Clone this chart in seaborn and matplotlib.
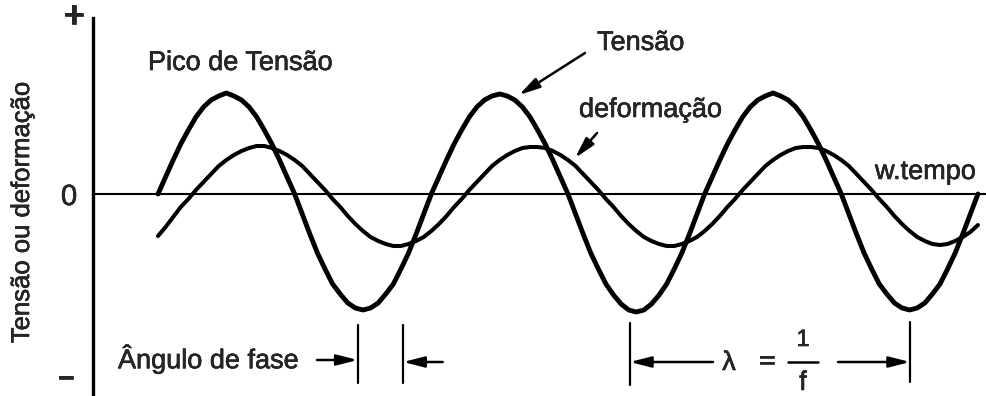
import pandas as pd
import matplotlib.pyplot as plt
import matplotlib.patheffects as pe
import seaborn as sns

# wt in degrees, sampled every 10 degrees over three cycles
omega_t = list(range(0, 1081, 10))

# stress (thick curve); trough a bit deeper than peak
tensao = [0.00, 0.17, 0.34, 0.50, 0.64, 0.77, 0.87, 0.94, 0.98, 1.01, 0.98, 0.94,
          0.87, 0.77, 0.64, 0.50, 0.34, 0.17, 0.00, -0.20, -0.40, -0.59, -0.75, -0.90,
          -1.00, -1.09, -1.14, -1.16, -1.14, -1.09, -1.00, -0.90, -0.75, -0.59, -0.40, -0.20,
          0.00, 0.17, 0.34, 0.50, 0.64, 0.77, 0.87, 0.94, 0.98, 1.00, 0.98, 0.94,
          0.87, 0.77, 0.64, 0.50, 0.34, 0.17, 0.00, -0.20, -0.40, -0.59, -0.75, -0.90,
          -1.01, -1.10, -1.16, -1.18, -1.16, -1.10, -1.01, -0.90, -0.75, -0.59, -0.40, -0.20,
          0.00, 0.17, 0.34, 0.50, 0.64, 0.77, 0.87, 0.94, 0.98, 1.01, 0.98, 0.94,
          0.87, 0.77, 0.64, 0.50, 0.34, 0.17, 0.00, -0.20, -0.40, -0.59, -0.75, -0.90,
          -1.00, -1.09, -1.14, -1.16, -1.14, -1.09, -1.00, -0.90, -0.75, -0.59, -0.40, -0.20,
          0.00]

# strain (thinner curve), lags the stress by roughly 45 degrees
deformacao = [-0.42, -0.33, -0.23, -0.13, -0.05, 0.04, 0.12, 0.20, 0.28, 0.34, 0.39, 0.43,
              0.46, 0.48, 0.48, 0.46, 0.43, 0.39, 0.34, 0.28, 0.20, 0.12, 0.04, -0.05,
              -0.13, -0.22, -0.30, -0.37, -0.43, -0.47, -0.50, -0.52, -0.52, -0.50, -0.47, -0.43,
              -0.37, -0.30, -0.22, -0.13, -0.05, 0.04, 0.12, 0.20, 0.28, 0.34, 0.39, 0.43,
              0.46, 0.47, 0.47, 0.46, 0.43, 0.39, 0.34, 0.28, 0.20, 0.12, 0.04, -0.05,
              -0.13, -0.22, -0.30, -0.37, -0.43, -0.47, -0.50, -0.52, -0.52, -0.50, -0.47, -0.43,
              -0.37, -0.30, -0.22, -0.13, -0.05, 0.04, 0.12, 0.20, 0.28, 0.34, 0.39, 0.43,
              0.46, 0.47, 0.47, 0.46, 0.43, 0.39, 0.34, 0.28, 0.20, 0.12, 0.04, -0.05,
              -0.13, -0.22, -0.30, -0.37, -0.43, -0.47, -0.50, -0.51, -0.50, -0.47, -0.43, -0.38,
              -0.31]

df = pd.DataFrame({'omega_t': omega_t, 'Tensão': tensao, 'deformação': deformacao})

sns.set_style('white')
plt.rcParams['font.family'] = ['Liberation Sans', 'DejaVu Sans']
plt.rcParams['lines.solid_capstyle'] = 'round'

fig = plt.figure(figsize=(9.86, 3.96), dpi=100)
ax = fig.add_axes([0, 0, 1, 1])

sns.lineplot(data=df, x='omega_t', y='Tensão', color='black', lw=3.5, ax=ax)
sns.lineplot(data=df, x='omega_t', y='deformação', color='black', lw=2.9, ax=ax)

ax.set_xlim(-208.1, 1090.6)
ax.set_ylim(-2.02, 1.94)

# axes drawn like the sketch: vertical axis and the wt line through zero
for s in ['top', 'right']:
    ax.spines[s].set_visible(False)
ax.spines['left'].set_position(('data', -85.6))
ax.spines['left'].set_bounds(-2.1, 1.76)
ax.spines['left'].set_linewidth(2.4)
ax.spines['bottom'].set_position(('data', 0))
ax.spines['bottom'].set_bounds(-85.6, 1100)
ax.spines['bottom'].set_linewidth(1.5)
for s in ['left', 'bottom']:
    ax.spines[s].set_color('black')
ax.set_xticks([])
ax.set_yticks([])
ax.set_xlabel('')
ax.set_ylabel('')

# the scanned lettering is a little heavier than plain Liberation Sans
heavy = [pe.withStroke(linewidth=0.4, foreground='black')]
fs = 19.5

def label(x, y, s, **kw):
    kw.setdefault('fontsize', fs)
    kw.setdefault('ha', 'left')
    kw.setdefault('va', 'center')
    return ax.text(x, y, s, path_effects=heavy, **kw)

label(-110.6, 1.77, '+', fontsize=26, fontweight='bold', ha='center')
label(-117.2, -0.03, '0', fontsize=21, ha='center')
label(-121.2, -1.86, '−', fontsize=20, fontweight='bold', ha='center')
label(-179.1, -0.18, 'Tensão ou deformação', fontsize=18.5, rotation=90, ha='center')

label(-13.2, 1.31, 'Pico de Tensão')
label(944.4, 0.22, 'w.tempo')

arrow = dict(arrowstyle='-|>,head_length=0.7,head_width=0.18', color='black',
             lw=1.8, mutation_scale=18, shrinkA=0, shrinkB=0)
ax.annotate('', xy=(475.5, 0.99), xytext=(562.4, 1.41), arrowprops=arrow)
label(578.3, 1.51, 'Tensão')
ax.annotate('', xy=(549.3, 0.36), xytext=(578.3, 0.61), arrowprops=arrow)
label(554.5, 0.84, 'deformação')

# phase angle between the stress and strain troughs
label(-52.7, -1.65, 'Ângulo de fase')
ax.plot([263, 263], [-1.31, -1.89], color='black', lw=1.6)
ax.plot([323, 323], [-1.31, -1.89], color='black', lw=1.6)
ax.annotate('', xy=(263, -1.66), xytext=(209.4, -1.66), arrowprops=arrow)
ax.annotate('', xy=(323, -1.68), xytext=(375, -1.68), arrowprops=arrow)

# wavelength lambda = 1/f
ax.plot([621.7, 621.7], [-1.29, -1.91], color='black', lw=1.6)
ax.plot([990.5, 990.5], [-1.28, -1.88], color='black', lw=1.6)
ax.annotate('', xy=(621.7, -1.68), xytext=(731, -1.68), arrowprops=arrow)
ax.annotate('', xy=(990.5, -1.68), xytext=(895.7, -1.68), arrowprops=arrow)
label(752.1, -1.69, 'λ', ha='center')
label(802.2, -1.68, '=', ha='center')
label(849.6, -1.46, '1', fontsize=17, ha='center')
ax.plot([829.8, 869.4], [-1.68, -1.68], color='black', lw=1.8)
label(849.6, -1.89, 'f', ha='center')

fig.savefig('out.png', dpi=100)
